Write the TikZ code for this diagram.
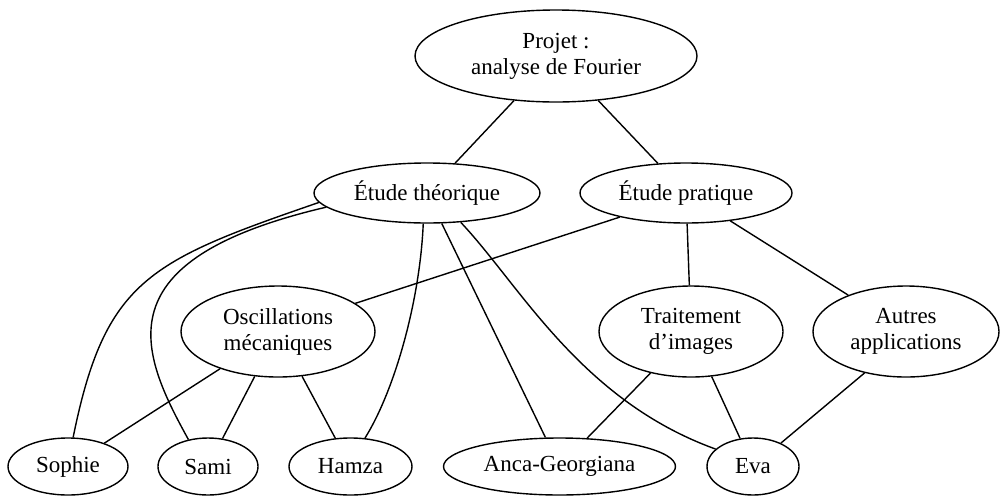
\documentclass[tikz,border=0pt]{standalone}
\usepackage{fontspec}
\setmainfont{Liberation Serif}
\usetikzlibrary{shapes.geometric}
\begin{document}
\begin{tikzpicture}[x=1pt,y=-1pt,
  nd/.style={ellipse,draw,line width=1.4pt,inner sep=0pt,align=center,
    font=\fontsize{23}{26}\selectfont},
  ed/.style={line width=1.4pt}]
\useasboundingbox (0,0) rectangle (1001,496);
\node[nd,minimum width=282pt,minimum height=92pt] (proj) at (556,56) {Projet :\\analyse de Fourier};
\node[nd,minimum width=226pt,minimum height=60pt] (et) at (427,193) {Étude théorique};
\node[nd,minimum width=212pt,minimum height=60pt] (ep) at (686,193) {Étude pratique};
\node[nd,minimum width=194pt,minimum height=91pt] (osc) at (278,331.5) {Oscillations\\mécaniques};
\node[nd,minimum width=184pt,minimum height=91pt] (trait) at (691,331.5) {Traitement\\d’images};
\node[nd,minimum width=186pt,minimum height=91pt] (autres) at (906,331.5) {Autres\\applications};
\node[nd,minimum width=120pt,minimum height=57pt] (sophie) at (68,466.5) {Sophie};
\node[nd,minimum width=100pt,minimum height=57pt] (sami) at (208,466.5) {Sami};
\node[nd,minimum width=123pt,minimum height=57pt] (hamza) at (350.5,466.5) {Hamza};
\node[nd,minimum width=232pt,minimum height=57pt] (anca) at (559.5,466.5) {Anca-Georgiana};
\node[nd,minimum width=92pt,minimum height=57pt] (eva) at (753,466.5) {Eva};
\draw[ed] (proj) -- (et);
\draw[ed] (proj) -- (ep);
\draw[ed] (et.185) .. controls (149,261) and (105,280) .. (sophie.80);
\draw[ed] (et.188) .. controls (100,260) and (140,352) .. (sami.126);
\draw[ed] (et.263) .. controls (420,300) and (395,390) .. (hamza.63);
\draw[ed] (et) -- (anca);
\draw[ed] (et.319) .. controls (520,285) and (580,400) .. (eva.155);
\draw[ed] (ep.200) -- (osc.20);
\draw[ed] (ep) -- (trait);
\draw[ed] (ep) -- (autres);
\draw[ed] (osc) -- (sophie);
\draw[ed] (osc) -- (sami);
\draw[ed] (osc) -- (hamza);
\draw[ed] (trait) -- (anca);
\draw[ed] (trait) -- (eva);
\draw[ed] (autres.225) -- (eva.40);
\end{tikzpicture}
\end{document}
